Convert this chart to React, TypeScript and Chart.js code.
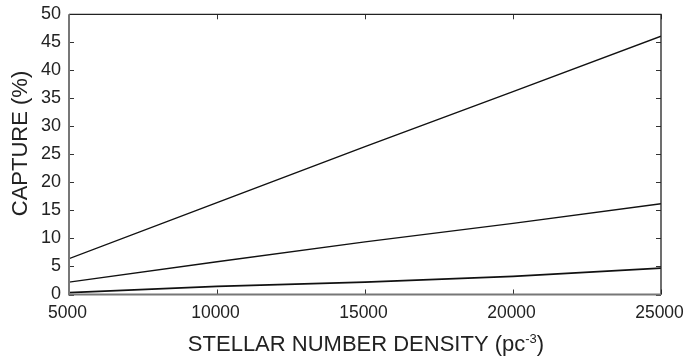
import React, { useEffect, useRef } from "react";
import { Chart, registerables } from "chart.js";
Chart.register(...registerables);

const densities = [5000, 10000, 15000, 20000, 25000];
const captureHigh = [6.4, 16.4, 26.4, 36.2, 46.1];
const captureMid = [2.2, 5.85, 9.4, 12.7, 16.2];
const captureLow = [0.35, 1.45, 2.2, 3.25, 4.7];
const xTickValues = [5000, 10000, 15000, 20000, 25000];
const yTickValues = [0, 5, 10, 15, 20, 25, 30, 35, 40, 45, 50];
const xTitleMain = "STELLAR NUMBER DENSITY (pc";
const xTitleSup = "-3";
const xTitleEnd = ")";
const yTitle = "CAPTURE (%)";

const FONT = "'Liberation Sans', Arial, Helvetica, sans-serif";

const toPoints = (ys: number[]) => densities.map((x, i) => ({ x, y: ys[i] }));

const framePlugin = {
  id: "frame",
  afterDraw(chart: any) {
    const { ctx, chartArea: a, scales } = chart;
    const xs = scales.x;
    const ys = scales.y;
    ctx.save();
    ctx.strokeStyle = "#333";
    ctx.lineWidth = 1;
    const tl = 5;
    xTickValues.forEach((v) => {
      const px = Math.round(xs.getPixelForValue(v)) + 0.5;
      ctx.beginPath();
      ctx.moveTo(px, a.bottom);
      ctx.lineTo(px, a.bottom - tl);
      ctx.moveTo(px, a.top);
      ctx.lineTo(px, a.top + tl);
      ctx.stroke();
    });
    yTickValues.forEach((v) => {
      const py = Math.round(ys.getPixelForValue(v)) + 0.5;
      ctx.beginPath();
      ctx.moveTo(a.left, py);
      ctx.lineTo(a.left + tl, py);
      ctx.moveTo(a.right, py);
      ctx.lineTo(a.right - tl, py);
      ctx.stroke();
    });
    ctx.strokeStyle = "#222";
    ctx.lineWidth = 1.3;
    ctx.beginPath();
    ctx.moveTo(a.left, a.top);
    ctx.lineTo(a.right, a.top);
    ctx.lineTo(a.right, a.bottom);
    ctx.stroke();
    ctx.strokeStyle = "#777";
    ctx.lineWidth = 2;
    ctx.beginPath();
    ctx.moveTo(a.left, a.top);
    ctx.lineTo(a.left, a.bottom);
    ctx.lineTo(a.right, a.bottom);
    ctx.stroke();

    ctx.fillStyle = "#222";
    const tf = 22;
    ctx.font = `${tf}px ${FONT}`;
    ctx.textBaseline = "alphabetic";
    const supFont = `${Math.round(tf * 0.6)}px ${FONT}`;
    const wMain = ctx.measureText(xTitleMain).width;
    const wEnd = ctx.measureText(xTitleEnd).width;
    ctx.font = supFont;
    const wSup = ctx.measureText(xTitleSup).width;
    const total = wMain + wSup + wEnd;
    const cx = 366;
    let x0 = cx - total / 2;
    const baseY = 351;
    ctx.font = `${tf}px ${FONT}`;
    ctx.textAlign = "left";
    ctx.fillText(xTitleMain, x0, baseY);
    x0 += wMain;
    ctx.font = supFont;
    ctx.fillText(xTitleSup, x0, baseY - 8);
    x0 += wSup;
    ctx.font = `${tf}px ${FONT}`;
    ctx.fillText(xTitleEnd, x0, baseY);

    ctx.translate(27, 143.5);
    ctx.rotate(-Math.PI / 2);
    ctx.textAlign = "center";
    ctx.font = `${tf}px ${FONT}`;
    ctx.fillText(yTitle, 0, 0);
    ctx.restore();
  },
};

export default function App() {
  const ref = useRef<HTMLCanvasElement>(null);
  useEffect(() => {
    if (!ref.current) return;
    const lineDs = (label: string, ys: number[], w: number) => ({
      label,
      data: toPoints(ys),
      borderColor: "#111",
      borderWidth: w,
      pointRadius: 0,
      tension: 0,
      fill: false,
    });
    const chart = new Chart(ref.current, {
      type: "line",
      data: {
        datasets: [
          lineDs("high", captureHigh, 1.4),
          lineDs("mid", captureMid, 1.4),
          lineDs("low", captureLow, 1.8),
        ],
      },
      options: {
        animation: false,
        responsive: false,
        layout: { padding: { top: 14.3, right: 24, left: 0, bottom: 0 } },
        plugins: { legend: { display: false }, tooltip: { enabled: false } },
        scales: {
          x: {
            type: "linear",
            min: 5000,
            max: 25000,
            afterBuildTicks: (s: any) => {
              s.ticks = xTickValues.map((v) => ({ value: v }));
            },
            afterFit: (s: any) => {
              s.height = 63.5;
              s.paddingLeft = 0;
              s.paddingRight = 0;
            },
            grid: { display: false, drawTicks: false },
            border: { display: false },
            ticks: {
              padding: 8,
              labelOffset: -1.5,
              color: "#222",
              font: { family: FONT, size: 17.5 },
              maxRotation: 0,
              callback: (v: any) => String(v),
            },
          },
          y: {
            type: "linear",
            min: 0,
            max: 50,
            afterBuildTicks: (s: any) => {
              s.ticks = yTickValues.map((v) => ({ value: v }));
            },
            afterFit: (s: any) => {
              s.width = 69;
              s.paddingTop = 0;
              s.paddingBottom = 0;
            },
            grid: { display: false, drawTicks: false },
            border: { display: false },
            ticks: {
              padding: 8,
              color: "#222",
              font: { family: FONT, size: 18 },
              callback: (v: any) => String(v),
            },
          },
        },
      },
      plugins: [framePlugin],
    });
    return () => chart.destroy();
  }, []);
  return (
    <div style={{ position: "absolute", left: 0, top: 0, width: 685, height: 358, background: "#fff" }}>
      <canvas ref={ref} width={685} height={358} />
    </div>
  );
}
